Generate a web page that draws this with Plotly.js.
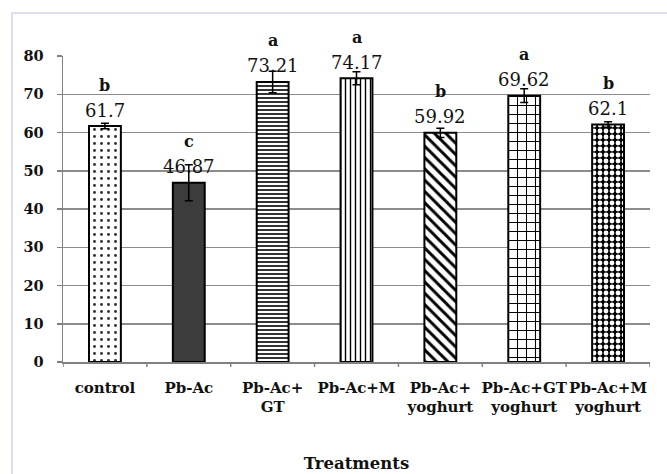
<!DOCTYPE html>
<html>
<head>
<meta charset="utf-8">
<script src="https://cdn.plot.ly/plotly-3.0.1.min.js"></script>
<style>
  html, body { margin: 0; padding: 0; background: #fff; }
  #chart { width: 667px; height: 474px; }
</style>
</head>
<body>
<div id="chart"></div>
<script>
// Treatment groups, their means, error bars and significance letters
var treatments = ["control", "Pb-Ac", "Pb-Ac+<br>GT", "Pb-Ac+M", "Pb-Ac+<br>yoghurt", "Pb-Ac+GT<br>yoghurt", "Pb-Ac+M<br>yoghurt"];
var means = [61.7, 46.87, 73.21, 74.17, 59.92, 69.62, 62.1];
var errors = [0.7, 4.7, 2.8, 1.7, 1.2, 1.8, 0.7];
var letters = ["b", "c", "a", "a", "b", "a", "b"];
var yTicks = [0, 10, 20, 30, 40, 50, 60, 70, 80];

// Fill style of each bar
var patShape = [".", "", "-", "|", "\\", "+", "."];
var patFg = ["#333333", "#3c3c3c", "#000000", "#000000", "#000000", "#000000", "#ffffff"];
var patBg = ["#ffffff", "#3c3c3c", "#ffffff", "#ffffff", "#ffffff", "#ffffff", "#000000"];
var patSize = [7, 8, 4, 5, 8, 9, 6];
var patSolid = [0.14, 0.3, 0.4, 0.28, 0.36, 0.22, 0.5];

var serif = "DejaVu Serif, Liberation Serif, serif";
var idx = treatments.map(function (_, i) { return i; });

// one trace per treatment so each bar carries its own fill pattern
var traces = idx.map(function (i) {
  var marker = {
    color: patBg[i],
    line: { color: "#000000", width: 2 }
  };
  if (patShape[i]) {
    marker.pattern = {
      shape: patShape[i],
      fgcolor: patFg[i],
      bgcolor: patBg[i],
      size: patSize[i],
      solidity: patSolid[i],
      fillmode: "replace"
    };
  }
  return {
    type: "bar",
    x: [i],
    y: [means[i]],
    width: 0.38,
    marker: marker,
    error_y: {
      type: "data",
      array: [errors[i]],
      visible: true,
      color: "#000000",
      thickness: 1.5,
      width: 4
    },
    hoverinfo: "none"
  };
});

var annotations = [];
means.forEach(function (v, i) {
  annotations.push({
    x: i, y: v, xref: "x", yref: "y",
    text: String(v),
    showarrow: false,
    yanchor: "middle",
    yshift: 16,
    font: { family: serif, size: 18, color: "#111111" }
  });
  annotations.push({
    x: i, y: v, xref: "x", yref: "y",
    text: "<b>" + letters[i] + "</b>",
    showarrow: false,
    yanchor: "middle",
    yshift: 41,
    font: { family: serif, size: 16, color: "#111111" }
  });
});

var boundaryTicks = idx.concat([7]).map(function (k) {
  return {
    type: "line", xref: "x", yref: "paper",
    x0: k - 0.5, x1: k - 0.5, y0: 0, y1: -0.016,
    line: { color: "#808080", width: 1.5 }
  };
});

var layout = {
  width: 667,
  height: 474,
  margin: { l: 63, r: 17, t: 56, b: 112 },
  paper_bgcolor: "#ffffff",
  plot_bgcolor: "#ffffff",
  showlegend: false,
  barmode: "overlay",
  xaxis: {
    type: "linear",
    range: [-0.5, 6.5],
    tickmode: "array",
    tickvals: idx,
    ticktext: treatments,
    tickangle: 0,
    showgrid: false,
    zeroline: false,
    showline: true,
    linecolor: "#808080",
    linewidth: 1.5,
    ticks: "",
    ticklabelstandoff: 11,
    tickfont: { family: serif, size: 15, color: "#111111", weight: "bold" },
    title: {
      text: "<b>Treatments</b>",
      font: { family: serif, size: 16.5, color: "#111111" },
      standoff: 42
    },
    automargin: false
  },
  yaxis: {
    range: [0, 80],
    tickmode: "array",
    tickvals: yTicks,
    showgrid: true,
    gridcolor: "#8c8c8c",
    gridwidth: 1.5,
    zeroline: false,
    showline: true,
    linecolor: "#808080",
    linewidth: 1.5,
    ticks: "outside",
    ticklen: 5,
    tickcolor: "#808080",
    tickwidth: 1.5,
    ticklabelstandoff: 10,
    tickfont: { family: serif, size: 14.5, color: "#111111", weight: "bold" },
    automargin: false
  },
  shapes: boundaryTicks.concat([
    // light frame round the chart
    {
      type: "rect", xref: "paper", yref: "paper",
      x0: -0.087, x1: 1.2, y0: -0.5, y1: 1.1405,
      line: { color: "#d4d4ea", width: 1.5 },
      layer: "below"
    }
  ]),
  annotations: annotations
};

Plotly.newPlot("chart", traces, layout, { staticPlot: true, displayModeBar: false });
</script>
</body>
</html>
